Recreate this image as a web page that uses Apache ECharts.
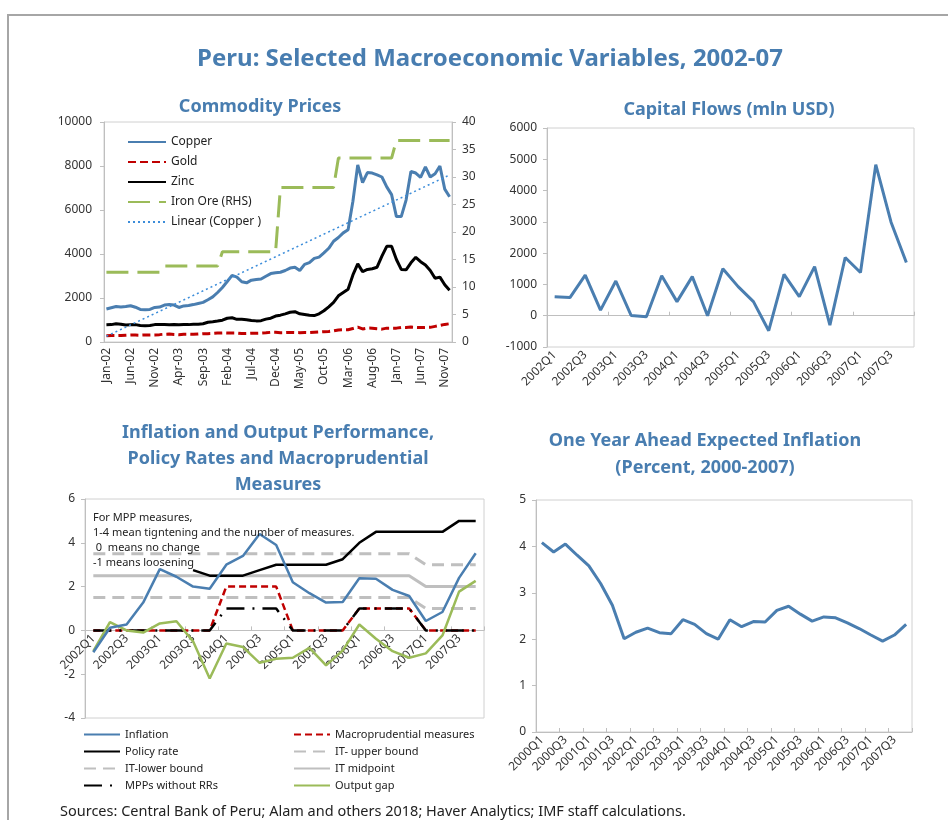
<!DOCTYPE html>
<html>
<head>
<meta charset="utf-8">
<script src="https://cdn.jsdelivr.net/npm/echarts@6/dist/echarts.min.js"></script>
<style>
html, body { margin: 0; padding: 0; background: #fff; }
#main { width: 948px; height: 820px; }
</style>
</head>
<body>
<div id="main"></div>
<script>
// ---- categories ----
var monthNames = ['Jan','Feb','Mar','Apr','May','Jun','Jul','Aug','Sep','Oct','Nov','Dec'];
var monthYears = ['02','03','04','05','06','07'];
var quarterNames = ['Q1','Q2','Q3','Q4'];
var flowYears = ['2002','2003','2004','2005','2006','2007'];
var expYears = ['2000','2001','2002','2003','2004','2005','2006','2007'];

var months = [];
monthYears.forEach(function (y) { monthNames.forEach(function (m) { months.push(m + '-' + y); }); });
var flowQuarters = [];
flowYears.forEach(function (y) { quarterNames.forEach(function (q) { flowQuarters.push(y + q); }); });
var expQuarters = [];
expYears.forEach(function (y) { quarterNames.forEach(function (q) { expQuarters.push(y + q); }); });

// ---- commodity prices (monthly, Jan-02 .. Dec-07) ----
var copper = [1500,1560,1610,1590,1610,1650,1580,1480,1470,1480,1570,1590,
              1680,1700,1680,1570,1640,1660,1700,1750,1800,1920,2050,2250,
              2480,2750,3030,2950,2740,2690,2810,2840,2860,2990,3110,3150,
              3170,3250,3360,3400,3250,3530,3610,3800,3860,4050,4260,4580,
              4750,4960,5100,6400,8050,7250,7700,7680,7600,7500,7050,6700,
              5700,5700,6450,7750,7680,7480,7960,7500,7650,8000,6950,6600];
var gold = [280,295,295,300,310,320,315,310,320,315,320,335,
            355,360,340,330,355,355,350,360,380,380,390,405,
            415,405,405,405,385,390,400,400,405,420,440,440,
            425,425,435,430,425,430,425,440,455,470,475,510,
            550,555,560,610,675,595,635,630,600,585,630,630,
            630,665,655,680,665,655,665,665,710,755,800,830];
var zinc = [780,790,830,810,770,780,790,750,740,750,790,790,
            790,780,790,780,790,790,810,810,830,900,920,950,
            990,1080,1100,1030,1030,1010,980,960,970,1040,1080,1180,
            1220,1280,1350,1380,1280,1250,1220,1200,1280,1420,1600,1800,
            2100,2250,2400,3050,3550,3200,3300,3330,3400,3900,4350,4350,
            3750,3300,3280,3600,3850,3650,3500,3250,2900,2950,2600,2350];
var ironOre = [12.68,12.68,12.68,12.68,12.68,12.68,12.68,12.68,12.68,12.68,12.68,12.68,
               13.82,13.82,13.82,13.82,13.82,13.82,13.82,13.82,13.82,13.82,13.82,13.82,
               16.39,16.39,16.39,16.39,16.39,16.39,16.39,16.39,16.39,16.39,16.39,16.39,
               28.11,28.11,28.11,28.11,28.11,28.11,28.11,28.11,28.11,28.11,28.11,28.11,
               33.45,33.45,33.45,33.45,33.45,33.45,33.45,33.45,33.45,33.45,33.45,33.45,
               36.63,36.63,36.63,36.63,36.63,36.63,36.63,36.63,36.63,36.63,36.63,36.63];
// trend line end points (Jan-02, Dec-07)
var copperTrendEnds = [260, 7590];

// ---- capital flows (quarterly, 2002Q1 .. 2007Q4) ----
var capitalFlows = [610,580,1300,180,1110,10,-30,1280,450,1250,0,1500,
                    930,450,-480,1320,610,1570,-300,1860,1380,4830,2990,1700];

// ---- inflation panel (quarterly, 2002Q1 .. 2007Q4) ----
var inflation = [-1.0,0.12,0.27,1.27,2.8,2.45,2.0,1.9,3.0,3.4,4.4,3.9,
                 2.2,1.7,1.27,1.3,2.38,2.36,1.85,1.57,0.43,0.84,2.4,3.52];
var policyRate = [null,null,null,null,null,null,2.75,2.5,2.5,2.5,2.75,3.0,
                  3.0,3.0,3.0,3.25,4.0,4.5,4.5,4.5,4.5,4.5,5.0,5.0];
var itUpper = [3.5,3.5,3.5,3.5,3.5,3.5,3.5,3.5,3.5,3.5,3.5,3.5,
               3.5,3.5,3.5,3.5,3.5,3.5,3.5,3.5,3.0,3.0,3.0,3.0];
var itMid = [2.5,2.5,2.5,2.5,2.5,2.5,2.5,2.5,2.5,2.5,2.5,2.5,
             2.5,2.5,2.5,2.5,2.5,2.5,2.5,2.5,2.0,2.0,2.0,2.0];
var itLower = [1.5,1.5,1.5,1.5,1.5,1.5,1.5,1.5,1.5,1.5,1.5,1.5,
               1.5,1.5,1.5,1.5,1.5,1.5,1.5,1.5,1.0,1.0,1.0,1.0];
var macroPru = [0,0,0,0,0,0,0,0,2,2,2,2,0,0,0,0,1,1,1,1,0,0,0,0];
var mppNoRR = [0,0,0,0,0,0,0,0,1,1,1,1,0,0,0,0,1,1,1,1,0,0,0,0];
var outputGap = [-0.95,0.38,0.0,-0.1,0.32,0.42,-0.5,-2.2,-0.6,-0.76,-1.48,-1.3,
                 -1.25,-0.8,-1.6,-0.92,0.27,-0.38,-0.95,-1.25,-1.05,-0.23,1.77,2.26];

// ---- expected inflation (quarterly, 2000Q1 .. 2007Q4) ----
var expInflation = [4.08,3.88,4.05,3.81,3.58,3.2,2.73,2.01,2.15,2.24,2.14,2.12,
                    2.42,2.32,2.12,2.0,2.42,2.27,2.38,2.37,2.62,2.71,2.54,2.39,
                    2.48,2.46,2.35,2.23,2.09,1.96,2.09,2.32];

var trendData = months.map(function () { return null; });
trendData[0] = copperTrendEnds[0];
trendData[months.length - 1] = copperTrendEnds[1];

var FONT = 'Noto Sans';
var BLUE = '#4A7EB0';
var TITLE = '#487DB0';
var GREY = '#BFBFBF';
var labelStyle = { color: '#333', fontSize: 12, fontFamily: FONT };
function plain(v) { return String(v); }

function valAxis(grid, min, max, interval, extra) {
    var a = {
        type: 'value', gridIndex: grid, min: min, max: max, interval: interval,
        splitLine: { show: false },
        axisLine: { show: true, lineStyle: { color: GREY } },
        axisTick: { show: true, length: 4, lineStyle: { color: GREY } },
        axisLabel: Object.assign({ margin: 10, formatter: plain }, labelStyle)
    };
    return Object.assign(a, extra || {});
}

function line(name, x, y, data, color, width, type, extra) {
    var s = {
        name: name, type: 'line', xAxisIndex: x, yAxisIndex: y, data: data,
        symbol: 'none', animation: false,
        lineStyle: { color: color, width: width, type: type || 'solid' },
        itemStyle: { color: color }
    };
    return Object.assign(s, extra || {});
}

// the zero line of the inflation panel sits 6/10 of the way down the grid
var infGridTop = 499, infGridHeight = 219;
var infZeroOffset = -(infGridHeight * 4 / 10);

var myChart = echarts.init(document.getElementById('main'));
var option = {
    animation: false,
    textStyle: { fontFamily: FONT },
    graphic: [
        { type: 'rect', shape: { x: 8, y: 15, width: 1000, height: 1000 },
          style: { fill: 'none', stroke: '#A6A6A6', lineWidth: 2 } },
        { type: 'text', x: 490, y: 59, style: { text: 'Peru: Selected Macroeconomic Variables, 2002-07',
          fill: TITLE, font: 'bold 24px "Noto Sans"', textAlign: 'center', textVerticalAlign: 'middle' } },
        { type: 'text', x: 260, y: 107, style: { text: 'Commodity Prices',
          fill: TITLE, font: 'bold 18px "Noto Sans"', textAlign: 'center', textVerticalAlign: 'middle' } },
        { type: 'text', x: 729, y: 110, style: { text: 'Capital Flows (mln USD)',
          fill: TITLE, font: 'bold 18px "Noto Sans"', textAlign: 'center', textVerticalAlign: 'middle' } },
        { type: 'text', x: 278, y: 459, style: { text: 'Inflation and Output Performance,\nPolicy Rates and Macroprudential\nMeasures',
          fill: TITLE, font: 'bold 18px "Noto Sans"', lineHeight: 26, textAlign: 'center', textVerticalAlign: 'middle' } },
        { type: 'text', x: 705, y: 454, style: { text: 'One Year Ahead Expected Inflation\n(Percent, 2000-2007)',
          fill: TITLE, font: 'bold 18px "Noto Sans"', lineHeight: 27, textAlign: 'center', textVerticalAlign: 'middle' } },
        { type: 'text', x: 93, y: 510, z: 10, style: {
          text: 'For MPP measures,\n1-4 mean tigntening and the number of measures.\n 0  means no change\n-1 means loosening',
          fill: '#222', font: '11px "Noto Sans"', lineHeight: 15 } },
        { type: 'text', x: 60, y: 812, style: { text: 'Sources: Central Bank of Peru; Alam and others 2018; Haver Analytics; IMF staff calculations.',
          fill: '#222', font: '14.5px "Noto Sans"', textVerticalAlign: 'middle' } }
    ],
    legend: [
        { orient: 'vertical', left: 127, top: 136, padding: 0, itemWidth: 38, itemHeight: 10, itemGap: 8,
          itemStyle: { opacity: 0 },
          textStyle: { fontSize: 12, color: '#222' },
          data: ['Copper', 'Gold', 'Zinc', 'Iron Ore (RHS)', 'Linear (Copper )'] },
        { orient: 'vertical', left: 83, top: 729, padding: 0, itemWidth: 36, itemHeight: 8, itemGap: 6,
          itemStyle: { opacity: 0 },
          textStyle: { fontSize: 11, color: '#222' },
          data: ['Inflation', 'Policy rate', 'IT-lower bound', 'MPPs without RRs'] },
        { orient: 'vertical', left: 293, top: 729, padding: 0, itemWidth: 36, itemHeight: 8, itemGap: 6,
          itemStyle: { opacity: 0 },
          textStyle: { fontSize: 11, color: '#222' },
          data: ['Macroprudential measures', 'IT- upper bound', 'IT midpoint', 'Output gap'] }
    ],
    grid: [
        { left: 104, top: 122, width: 348, height: 220, show: true, borderColor: '#D0D0D0', borderWidth: 1 },
        { left: 547, top: 128, width: 367, height: 219, show: true, borderColor: '#D0D0D0', borderWidth: 1 },
        { left: 85, top: infGridTop, width: 399, height: infGridHeight, show: true, borderColor: '#D0D0D0', borderWidth: 1 },
        { left: 536, top: 500, width: 376, height: 232, show: true, borderColor: '#D0D0D0', borderWidth: 1 }
    ],
    xAxis: [
        { type: 'category', gridIndex: 0, data: months, boundaryGap: true,
          axisLine: { lineStyle: { color: GREY } },
          axisTick: { interval: 4, inside: true, length: 4, lineStyle: { color: GREY } },
          axisLabel: Object.assign({ interval: 4, rotate: 90, margin: 6 }, labelStyle) },
        { type: 'category', gridIndex: 1, data: flowQuarters, position: 'bottom',
          axisLine: { show: false, onZero: false }, axisTick: { show: false },
          axisLabel: Object.assign({ interval: 1, rotate: 45, margin: 6 }, labelStyle) },
        { type: 'category', gridIndex: 1, data: flowQuarters, position: 'bottom',
          axisLine: { show: true, onZero: true, lineStyle: { color: GREY } },
          axisTick: { show: true, inside: true, length: 4, lineStyle: { color: GREY } },
          axisLabel: { show: false } },
        { type: 'category', gridIndex: 2, data: flowQuarters, position: 'bottom', offset: infZeroOffset,
          axisLine: { show: true, onZero: false, lineStyle: { color: GREY } },
          axisTick: { show: true, inside: true, length: 4, lineStyle: { color: GREY } },
          axisLabel: Object.assign({ interval: 1, rotate: 45, margin: 6 }, labelStyle) },
        { type: 'category', gridIndex: 3, data: expQuarters,
          axisLine: { lineStyle: { color: GREY } },
          axisTick: { show: true, inside: true, length: 4, lineStyle: { color: GREY } },
          axisLabel: Object.assign({ interval: 1, rotate: 45, margin: 6 }, labelStyle) }
    ],
    yAxis: [
        valAxis(0, 0, 10000, 2000, { axisLabel: Object.assign({ margin: 12, formatter: plain }, labelStyle) }),
        valAxis(0, 0, 40, 5, { position: 'right' }),
        valAxis(1, -1000, 6000, 1000),
        valAxis(2, -4, 6, 2),
        valAxis(3, 0, 5, 1)
    ],
    series: [
        line('Iron Ore (RHS)', 0, 1, ironOre, '#9BBB59', 3, [22, 9]),
        line('Gold', 0, 0, gold, '#C00000', 3, [8, 4]),
        line('Zinc', 0, 0, zinc, '#000000', 3),
        line('Copper', 0, 0, copper, BLUE, 3),
        line('Linear (Copper )', 0, 0, trendData, '#3C8DDA', 1.5, [2, 3], { connectNulls: true }),

        line('Capital Flows', 1, 2, capitalFlows, BLUE, 3),

        line('IT- upper bound', 3, 3, itUpper, GREY, 3, [12, 7]),
        line('IT-lower bound', 3, 3, itLower, GREY, 3, [12, 7]),
        line('IT midpoint', 3, 3, itMid, GREY, 3),
        line('Macroprudential measures', 3, 3, macroPru, '#C00000', 2.5, [7, 4]),
        line('MPPs without RRs', 3, 3, mppNoRR, '#000000', 2.5, [18, 8, 2, 8]),
        line('Output gap', 3, 3, outputGap, '#9BBB59', 2.5),
        line('Policy rate', 3, 3, policyRate, '#000000', 2.5),
        line('Inflation', 3, 3, inflation, BLUE, 2.5),

        line('Expected Inflation', 4, 4, expInflation, BLUE, 3)
    ]
};
myChart.setOption(option);
</script>
</body>
</html>
